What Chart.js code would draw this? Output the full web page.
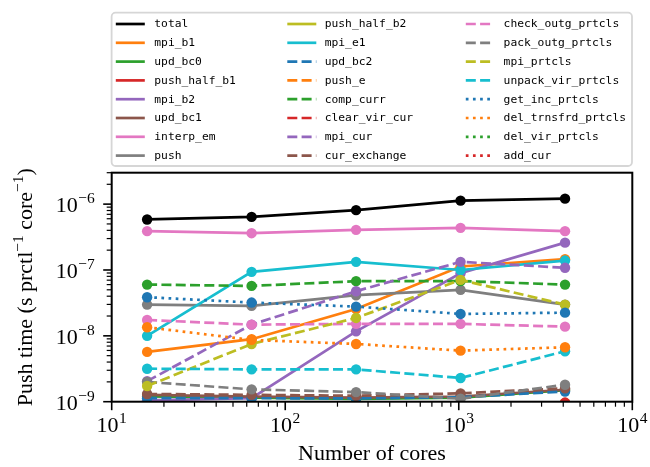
<!DOCTYPE html>
<html>
<head>
<meta charset="utf-8">
<script src="https://cdn.jsdelivr.net/npm/chart.js@4.4.1/dist/chart.umd.min.js"></script>
<style>
  html, body { margin: 0; padding: 0; background: #fff; }
  canvas { display: block; }
</style>
</head>
<body>
<canvas id="pushChart" width="650" height="467"></canvas>
<script>
// number of cores (x) and push time per particle per core (y)
const cores = [16, 64, 256, 1024, 4096];

const total = [5.85e-7, 6.4e-7, 8.1e-7, 1.13e-6, 1.21e-6];
const mpi_b1 = [5.7e-9, 8.9e-9, 2.55e-8, 1.13e-7, 1.46e-7];
const upd_bc0 = [1.2e-9, 1.15e-9, 1.1e-9, 1.15e-9, 1.5e-9];
const push_half_b1 = [6e-10, 6e-10, 6e-10, 6e-10, 7e-10];
const mpi_b2 = [1.05e-9, 1.13e-9, 1.17e-8, 8.9e-8, 2.6e-7];
const upd_bc1 = [1.27e-9, 1.19e-9, 1.15e-9, 1.2e-9, 1.52e-9];
const interp_em = [3.89e-7, 3.62e-7, 4.07e-7, 4.36e-7, 3.89e-7];
const push = [2.98e-8, 2.85e-8, 4.14e-8, 4.99e-8, 2.98e-8];
const push_half_b2 = [5.5e-10, 5.5e-10, 5.5e-10, 5.5e-10, 6.5e-10];
const mpi_e1 = [1.0e-8, 9.36e-8, 1.33e-7, 1.0e-7, 1.39e-7];
const upd_bc2 = [1.13e-9, 1.13e-9, 1.12e-9, 1.17e-9, 1.43e-9];
const push_e = [5e-10, 5e-10, 5e-10, 5e-10, 9.6e-10];
const comp_curr = [6.0e-8, 5.73e-8, 6.76e-8, 6.8e-8, 6.0e-8];
const clear_vir_cur = [4e-10, 4e-10, 4e-10, 4e-10, 5e-10];
const mpi_cur = [2.05e-9, 1.48e-8, 4.76e-8, 1.33e-7, 1.08e-7];
const cur_exchange = [1.31e-9, 1.27e-9, 1.23e-9, 1.34e-9, 1.6e-9];
const check_outg_prtcls = [1.74e-8, 1.48e-8, 1.52e-8, 1.52e-8, 1.38e-8];
const pack_outg_prtcls = [1.99e-9, 1.54e-9, 1.4e-9, 1.11e-9, 1.81e-9];
const mpi_prtcls = [1.73e-9, 7.53e-9, 1.87e-8, 7.07e-8, 2.98e-8];
const unpack_vir_prtcls = [3.17e-9, 3.1e-9, 3.1e-9, 2.29e-9, 5.83e-9];
const get_inc_prtcls = [3.86e-8, 3.2e-8, 2.78e-8, 2.15e-8, 2.25e-8];
const del_trnsfrd_prtcls = [1.35e-8, 8.67e-9, 7.53e-9, 5.96e-9, 6.71e-9];
const del_vir_prtcls = [3e-10, 3e-10, 3e-10, 3e-10, 4e-10];
const add_cur = [4e-10, 4e-10, 4e-10, 4e-10, 9.7e-10];

// tick labels (powers of ten)
const xTickExps = [1, 2, 3, 4];
const yTickExps = [-9, -8, -7, -6];

const C = {
  blue: "#1f77b4", orange: "#ff7f0e", green: "#2ca02c", red: "#d62728",
  purple: "#9467bd", brown: "#8c564b", pink: "#e377c2", gray: "#7f7f7f",
  olive: "#bcbd22", cyan: "#17becf", black: "#000000",
};

// label, values, colour, line style
const series = [
  ["total", total, C.black, "solid"],
  ["mpi_b1", mpi_b1, C.orange, "solid"],
  ["upd_bc0", upd_bc0, C.green, "solid"],
  ["push_half_b1", push_half_b1, C.red, "solid"],
  ["mpi_b2", mpi_b2, C.purple, "solid"],
  ["upd_bc1", upd_bc1, C.brown, "solid"],
  ["interp_em", interp_em, C.pink, "solid"],
  ["push", push, C.gray, "solid"],
  ["push_half_b2", push_half_b2, C.olive, "solid"],
  ["mpi_e1", mpi_e1, C.cyan, "solid"],
  ["upd_bc2", upd_bc2, C.blue, "dashed"],
  ["push_e", push_e, C.orange, "dashed"],
  ["comp_curr", comp_curr, C.green, "dashed"],
  ["clear_vir_cur", clear_vir_cur, C.red, "dashed"],
  ["mpi_cur", mpi_cur, C.purple, "dashed"],
  ["cur_exchange", cur_exchange, C.brown, "dashed"],
  ["check_outg_prtcls", check_outg_prtcls, C.pink, "dashed"],
  ["pack_outg_prtcls", pack_outg_prtcls, C.gray, "dashed"],
  ["mpi_prtcls", mpi_prtcls, C.olive, "dashed"],
  ["unpack_vir_prtcls", unpack_vir_prtcls, C.cyan, "dashed"],
  ["get_inc_prtcls", get_inc_prtcls, C.blue, "dotted"],
  ["del_trnsfrd_prtcls", del_trnsfrd_prtcls, C.orange, "dotted"],
  ["del_vir_prtcls", del_vir_prtcls, C.green, "dotted"],
  ["add_cur", add_cur, C.red, "dotted"],
];

const LW = 2.7;
const DASHES = { solid: [], dashed: [10, 4.3], dotted: [2.7, 4.45] };
const SERIF = "'Liberation Serif', 'Times New Roman', serif";
const MONO = "'DejaVu Sans Mono', monospace";

function drawPower(ctx, exp, x, baseY, align) {
  const base = "10";
  const sup = exp < 0 ? "\u2212" + Math.abs(exp) : String(exp);
  ctx.font = "22px " + SERIF;
  const wb = ctx.measureText(base).width;
  ctx.font = "15.5px " + SERIF;
  const ws = ctx.measureText(sup).width;
  const w = wb + 0.5 + ws;
  const x0 = align === "right" ? x - w : x - w / 2;
  ctx.textAlign = "left";
  ctx.textBaseline = "alphabetic";
  ctx.font = "22px " + SERIF;
  ctx.fillText(base, x0, baseY);
  ctx.font = "15.5px " + SERIF;
  ctx.fillText(sup, x0 + wb + 0.5, baseY - 9);
}

function drawYTitle(ctx, area) {
  const parts = [
    ["Push time (s prctl", false],
    ["\u22121", true],
    [" core", false],
    ["\u22121", true],
    [")", false],
  ];
  const fonts = { false: "22px " + SERIF, true: "15.5px " + SERIF };
  let w = 0;
  parts.forEach(([t, s]) => { ctx.font = fonts[s]; w += ctx.measureText(t).width; });
  ctx.save();
  ctx.translate(32, (area.top + area.bottom) / 2);
  ctx.rotate(-Math.PI / 2);
  ctx.fillStyle = "#000";
  ctx.textAlign = "left";
  ctx.textBaseline = "alphabetic";
  let x = -w / 2;
  parts.forEach(([t, s]) => {
    ctx.font = fonts[s];
    ctx.fillText(t, x, s ? -9 : 0);
    x += ctx.measureText(t).width;
  });
  ctx.restore();
}

function drawLegend(ctx) {
  const box = { l: 111.6, t: 12.7, r: 632, b: 166 };
  const lineX = [[115.8, 144.8], [287.3, 316.3], [465.8, 491.3]];
  const textX = [154.3, 324.7, 503.6];
  const rowY0 = 24, rowStep = 18.8;

  ctx.save();
  ctx.beginPath();
  ctx.roundRect(box.l, box.t, box.r - box.l, box.b - box.t, 4);
  ctx.fillStyle = "#ffffff";
  ctx.fill();
  ctx.strokeStyle = "#d6d6d6";
  ctx.lineWidth = 1.8;
  ctx.stroke();

  series.forEach(([label, , color, style], i) => {
    const col = Math.floor(i / 8);
    const y = rowY0 + (i % 8) * rowStep;
    ctx.beginPath();
    ctx.setLineDash(DASHES[style]);
    ctx.lineCap = "butt";
    ctx.strokeStyle = color;
    ctx.lineWidth = LW;
    ctx.moveTo(lineX[col][0], y);
    ctx.lineTo(lineX[col][1], y);
    ctx.stroke();
    ctx.setLineDash([]);
    ctx.fillStyle = "#000";
    ctx.font = "11.3px " + MONO;
    ctx.textAlign = "left";
    ctx.textBaseline = "middle";
    ctx.fillText(label, textX[col], y + 0.5);
  });
  ctx.restore();
}

const axesDecor = {
  id: "axesDecor",
  afterDatasetsDraw(chart) {
    const { ctx, chartArea: a, scales } = chart;
    const xs = scales.x, ys = scales.y;
    ctx.save();
    // frame
    ctx.strokeStyle = "#000";
    ctx.lineWidth = 2;
    ctx.strokeRect(a.left, a.top, a.right - a.left, a.bottom - a.top);

    // ticks
    const tick = (x1, y1, x2, y2, w) => {
      ctx.beginPath();
      ctx.lineWidth = w;
      ctx.moveTo(x1, y1);
      ctx.lineTo(x2, y2);
      ctx.stroke();
    };
    for (let e = 1; e <= 4; e++) {
      for (let m = 1; m <= 9; m++) {
        const v = m * Math.pow(10, e);
        if (v > 10000 || (e === 4 && m > 1)) continue;
        const px = xs.getPixelForValue(v);
        if (m === 1) tick(px, a.bottom, px, a.bottom + 8.5, 1.6);
        else tick(px, a.bottom, px, a.bottom + 5, 1.2);
      }
    }
    for (let e = -9; e <= -6; e++) {
      for (let m = 1; m <= 9; m++) {
        const v = m * Math.pow(10, e);
        if (v > 3.0001e-6) continue;
        const py = ys.getPixelForValue(v);
        if (m === 1) tick(a.left, py, a.left - 8.5, py, 1.6);
        else tick(a.left, py, a.left - 5, py, 1.2);
      }
    }

    // tick labels
    ctx.fillStyle = "#000";
    xTickExps.forEach((e) => {
      drawPower(ctx, e, xs.getPixelForValue(Math.pow(10, e)), a.bottom + 30.5, "center");
    });
    yTickExps.forEach((e) => {
      drawPower(ctx, e, a.left - 17, ys.getPixelForValue(Math.pow(10, e)) + 8, "right");
    });

    drawYTitle(ctx, a);
    drawLegend(ctx);
    ctx.restore();
  },
};

const N = series.length;
const datasets = series.map(([label, vals, color, style], i) => ({
  label: label,
  data: cores.map((c, j) => ({ x: c, y: vals[j] })),
  borderColor: color,
  backgroundColor: color,
  borderWidth: LW,
  borderDash: DASHES[style],
  borderCapStyle: "butt",
  pointRadius: 5.2,
  pointHoverRadius: 5.2,
  pointBackgroundColor: color,
  pointBorderWidth: 0,
  tension: 0,
  fill: false,
  clip: 0,
  order: N - i,
}));

const ctx = document.getElementById("pushChart").getContext("2d");
new Chart(ctx, {
  type: "line",
  data: { datasets: datasets },
  options: {
    responsive: false,
    animation: false,
    devicePixelRatio: 1,
    layout: { padding: { left: 0, right: 17.7, top: 172.7, bottom: 0 } },
    plugins: {
      legend: { display: false },
      tooltip: { enabled: false },
    },
    scales: {
      x: {
        type: "logarithmic",
        min: 10,
        max: 10000,
        grid: { display: false, drawTicks: false },
        border: { display: false },
        ticks: { display: false },
        title: {
          display: true,
          text: "Number of cores",
          color: "#000",
          font: { family: SERIF, size: 22 },
          padding: { top: 0, bottom: 0 },
        },
        afterFit: (scale) => { scale.height = 65.3; },
      },
      y: {
        type: "logarithmic",
        min: 1e-9,
        max: 3e-6,
        grid: { display: false, drawTicks: false },
        border: { display: false },
        ticks: { display: false },
        afterFit: (scale) => { scale.width = 111.7; },
      },
    },
  },
  plugins: [axesDecor],
});
</script>
</body>
</html>
